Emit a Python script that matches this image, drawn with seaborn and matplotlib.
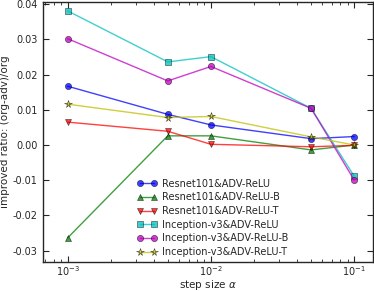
import matplotlib
matplotlib.use("Agg")
import matplotlib.pyplot as plt
import seaborn as sns
import numpy as np
import pandas as pd

step_sizes = [0.001, 0.005, 0.01, 0.05, 0.1]

series_names = [
    "Resnet101&ADV-ReLU",
    "Resnet101&ADV-ReLU-B",
    "Resnet101&ADV-ReLU-T",
    "Inception-v3&ADV-ReLU",
    "Inception-v3&ADV-ReLU-B",
    "Inception-v3&ADV-ReLU-T",
]
resnet_relu = [0.0167, 0.0087, 0.0057, 0.0018, 0.0024]
resnet_relu_b = [-0.0264, 0.0026, 0.0026, -0.0014, 0.0000]
resnet_relu_t = [0.0065, 0.0039, 0.0002, -0.0005, -0.0001]
incep_relu = [0.0381, 0.0236, 0.0251, 0.0104, -0.0089]
incep_relu_b = [0.0302, 0.0182, 0.0223, 0.0104, -0.0100]
incep_relu_t = [0.0116, 0.0078, 0.0081, 0.0023, 0.0000]

colors = ["b", "g", "r", "c", "m", "y"]
markers = ["o", "^", "v", "s", "o", "*"]

all_values = [resnet_relu, resnet_relu_b, resnet_relu_t,
              incep_relu, incep_relu_b, incep_relu_t]

sns.set_style("ticks")
plt.rcParams["font.family"] = ["DejaVu Sans"]
plt.rcParams["xtick.direction"] = "in"
plt.rcParams["ytick.direction"] = "in"
plt.rcParams["legend.numpoints"] = 2

fig = plt.figure(figsize=(3.74, 2.91), dpi=100)
ax = fig.add_axes([0.114, 0.1, 0.882, 0.893])

for name, vals, col, mk in zip(series_names, all_values, colors, markers):
    df = pd.DataFrame({"step": step_sizes, "ratio": vals})
    ms = 5.5 if mk == "*" else 4.5
    sns.lineplot(data=df, x="step", y="ratio", ax=ax, color=col, marker=mk,
                 markersize=ms, markeredgecolor="k", markeredgewidth=0.4,
                 linewidth=1.0, alpha=0.75, label=name)

ax.set_xscale("log")
ax.set_xlim(0.00067, 0.134)
ax.set_ylim(-0.0332, 0.0406)
ax.set_yticks([-0.03, -0.02, -0.01, 0.0, 0.01, 0.02, 0.03, 0.04])
ax.yaxis.set_major_formatter(matplotlib.ticker.FormatStrFormatter("%.2f"))
ax.tick_params(axis="both", which="both", top=True, right=True, labelsize=7)
ax.tick_params(axis="x", which="major", pad=2)
ax.tick_params(which="major", length=4)
ax.tick_params(which="minor", length=2)
for s in ax.spines.values():
    s.set_linewidth(1.0)

ax.set_xlabel(r"step size $\alpha$", fontsize=7.5, labelpad=0)
ax.set_ylabel("improved ratio: (org-adv)/org", fontsize=7.5, labelpad=2)

leg = ax.legend(loc="lower left", bbox_to_anchor=(0.26, -0.015), frameon=False,
                fontsize=7, handlelength=2.0, labelspacing=0.38, handletextpad=0.6)

fig.savefig("out.png", dpi=100)
